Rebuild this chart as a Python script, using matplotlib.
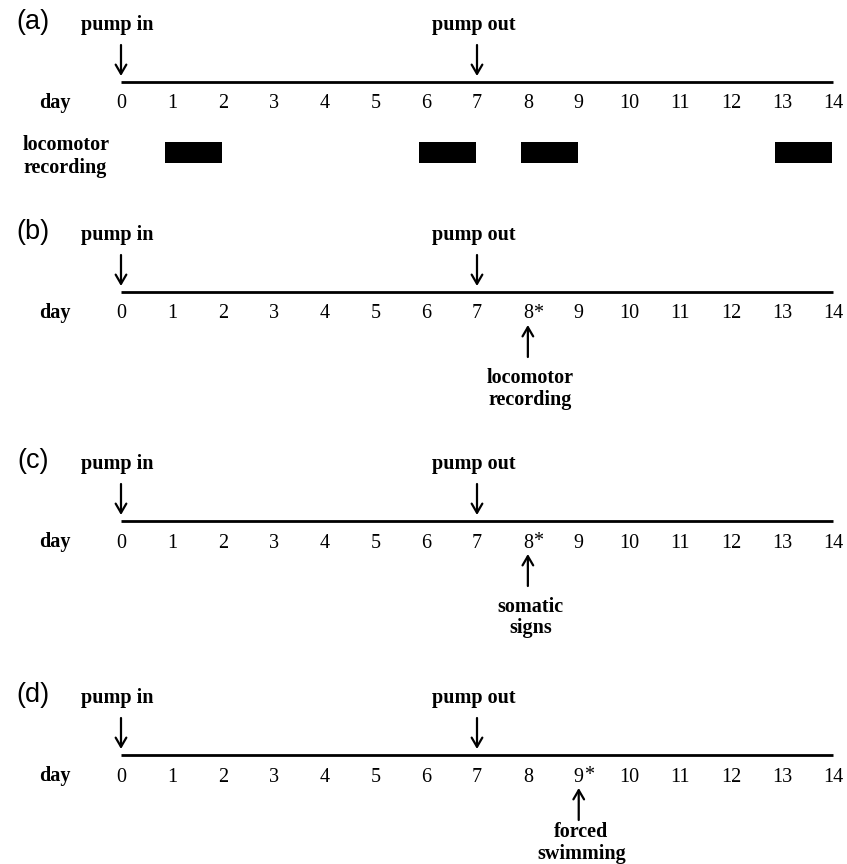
import matplotlib.pyplot as plt

# dữ liệu của sơ đồ
days = list(range(15))
pump_in_day = 0
pump_out_day = 7
panel_labels = ['(a)', '(b)', '(c)', '(d)']
recording_starts = [1, 6, 8, 13]   # các khối ghi vận động ở (a)
recording_length = 1
test_days = [None, 8, 8, 9]
test_names = [None, ['locomotor', 'recording'], ['somatic', 'signs'], ['forced', 'swimming']]

# vị trí dọc của từng trục thời gian (pixel, trục y lật)
line_y = [82, 292, 521, 755]
note_dy = [None, (86, 108), (86, 107), (77, 99)]

serif = 'Liberation Serif'
fig = plt.figure(figsize=(8.47, 8.64), dpi=100)
ax = fig.add_axes([0, 0, 1, 1])
ax.set_xlim(-2.379, 14.275)
ax.set_ylim(864, 0)
ax.axis('off')

arrow = dict(arrowstyle='->, head_length=0.55, head_width=0.32', lw=1.6,
             color='black', shrinkA=0, shrinkB=0, mutation_scale=12)

for i, y in enumerate(line_y):
    ax.text(-1.73, y - 60, panel_labels[i], family='Liberation Sans',
            fontsize=19.5, ha='center', va='center')
    ax.plot([days[0], days[-1]], [y, y], color='black', lw=2.0,
            solid_capstyle='butt')

    # bơm vào / bơm ra
    for d, name in [(pump_in_day, 'pump in'), (pump_out_day, 'pump out')]:
        ax.text(d - 0.07, y - 57, name, family=serif, weight='bold',
                fontsize=14.5, ha='center', va='center')
        ax.annotate('', xy=(d, y - 6), xytext=(d, y - 37), arrowprops=arrow)

    ax.text(-1.3, y + 21, 'day', family=serif, weight='bold',
            fontsize=14.5, ha='center', va='center')
    for d in days:
        ax.text(d, y + 22, str(d), family=serif, fontsize=14.5,
                ha='center', va='center')
        if d == test_days[i]:
            ax.annotate('*', xy=(d, y + 21), xytext=(3.6, 0),
                        textcoords='offset points', family=serif,
                        fontsize=14.5, ha='left', va='center')

    if test_days[i] is not None:
        td = test_days[i]
        ax.annotate('', xy=(td, y + 33), xytext=(td, y + 65), arrowprops=arrow)
        for line, dy in zip(test_names[i], note_dy[i]):
            ax.text(td + 0.05, y + dy, line, family=serif, weight='bold',
                    fontsize=14.5, ha='center', va='center')

# khối ghi vận động ở panel (a)
y = line_y[0]
ax.barh([y + 70.5] * len(recording_starts), [recording_length + 0.12] * len(recording_starts),
        left=[s - 0.14 for s in recording_starts], height=21, color='black')
ax.text(-1.08, y + 63, 'locomotor', family=serif, weight='bold',
        fontsize=14.5, ha='center', va='center')
ax.text(-1.1, y + 86, 'recording', family=serif, weight='bold',
        fontsize=14.5, ha='center', va='center')

fig.savefig('out.png', dpi=100)
